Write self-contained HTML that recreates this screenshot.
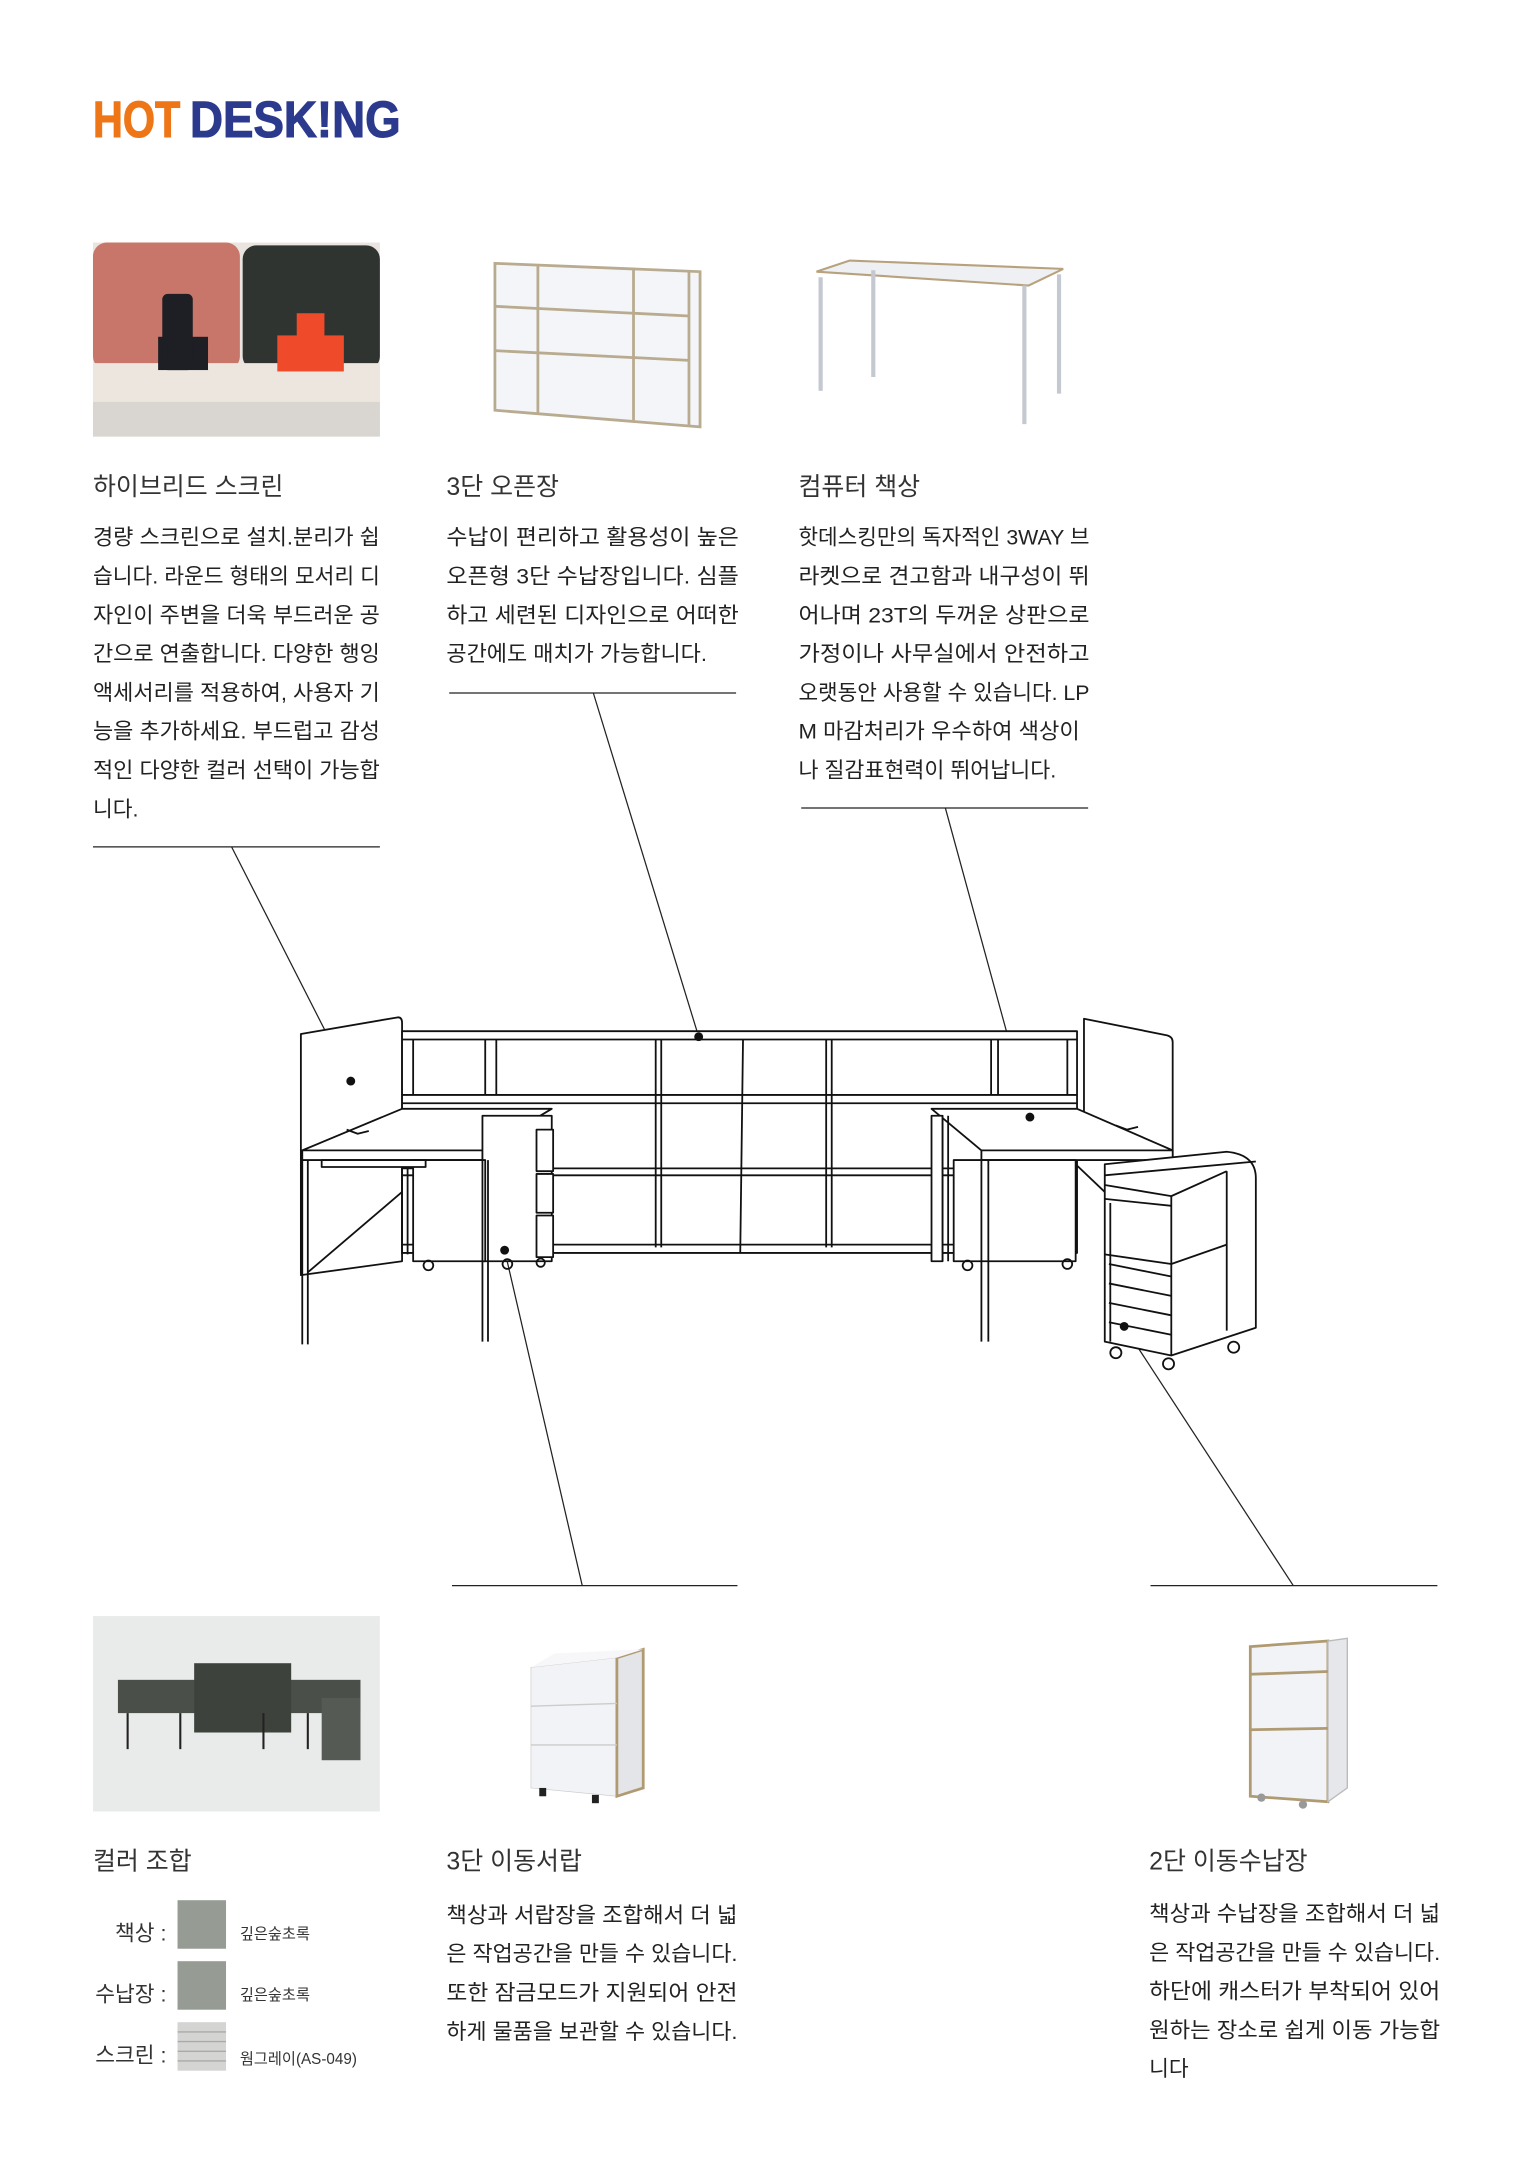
<!DOCTYPE html>
<html><head><meta charset="utf-8"><style>
html,body{margin:0;padding:0;background:#fff}
svg{display:block}
text{font-family:"Liberation Sans","Noto Sans CJK KR",sans-serif;fill:#222}
.t{font-size:18px;fill:#333}
.b{font-size:15.5px;fill:#333}
.s{font-size:11px;fill:#333}
.k{fill:none;stroke:#111;stroke-width:1.3;stroke-linejoin:round}
.w{fill:#fff;stroke:#111;stroke-width:1.3;stroke-linejoin:round}
.ln{stroke:#222;stroke-width:0.9}
</style></head><body>
<svg width="1529" height="2163" viewBox="0 0 1103 1560.6" xmlns="http://www.w3.org/2000/svg">
<!-- logo -->
<text x="67" y="99" textLength="63" lengthAdjust="spacingAndGlyphs" style="font-size:37px;font-weight:bold;fill:#ee7616;stroke:#ee7616;stroke-width:0.8">HOT</text>
<text x="137" y="99" textLength="152" lengthAdjust="spacingAndGlyphs" style="font-size:37px;font-weight:bold;fill:#2c3a8e;stroke:#2c3a8e;stroke-width:0.8">DESK!NG</text>

<!-- image 1 : screens -->
<rect x="67" y="175" width="207" height="140" fill="#e9e4df"/>
<rect x="67" y="175" width="106" height="92" rx="10" fill="#c8766a"/>
<rect x="175" y="177" width="99" height="90" rx="10" fill="#2f3430"/>
<rect x="67" y="262" width="207" height="28" fill="#ece6df"/>
<rect x="67" y="290" width="207" height="25" fill="#d9d6d1"/>
<rect x="114" y="243" width="36" height="24" fill="#1d1f24"/>
<rect x="117" y="212" width="22" height="55" rx="4" fill="#1d1f24"/>
<rect x="200" y="242" width="48" height="26" fill="#ef4a2a"/>
<rect x="214" y="226" width="20" height="18" fill="#ef4a2a"/>
<!-- image 2 : open shelf -->
<polygon points="357,190 505,196 505,308 357,296" fill="#f4f5f8" stroke="#b9ab8f" stroke-width="2"/>
<line x1="357" y1="221" x2="497" y2="228" stroke="#b9ab8f" stroke-width="2"/>
<line x1="357" y1="253" x2="497" y2="260" stroke="#b9ab8f" stroke-width="2"/>
<line x1="388" y1="191" x2="388" y2="298" stroke="#b9ab8f" stroke-width="2"/>
<line x1="457" y1="194" x2="457" y2="303" stroke="#b9ab8f" stroke-width="2"/>
<line x1="497" y1="196" x2="497" y2="308" stroke="#b9ab8f" stroke-width="2"/>
<!-- image 3 : desk -->
<polygon points="589,196 613,188 767,194 742,206" fill="#eef0f4" stroke="#b8a27e" stroke-width="1.5"/>
<g stroke="#c4c8d0" stroke-width="3"><line x1="592" y1="200" x2="592" y2="282"/><line x1="630" y1="195" x2="630" y2="272"/><line x1="739" y1="206" x2="739" y2="306"/><line x1="764" y1="198" x2="764" y2="284"/></g>

<!-- section titles and text -->
<text class="t" x="67" y="357">하이브리드 스크린</text>
<text class="t" x="322" y="357">3단 오픈장</text>
<text class="t" x="576" y="357">컴퓨터 책상</text>

<g class="b">
<text x="67" y="393" textLength="207" lengthAdjust="spacingAndGlyphs">경량 스크린으로 설치.분리가 쉽</text>
<text x="67" y="421" textLength="207" lengthAdjust="spacingAndGlyphs">습니다. 라운드 형태의 모서리 디</text>
<text x="67" y="449" textLength="207" lengthAdjust="spacingAndGlyphs">자인이 주변을 더욱 부드러운 공</text>
<text x="67" y="477" textLength="207" lengthAdjust="spacingAndGlyphs">간으로 연출합니다. 다양한 행잉</text>
<text x="67" y="505" textLength="207" lengthAdjust="spacingAndGlyphs">액세서리를 적용하여, 사용자 기</text>
<text x="67" y="533" textLength="207" lengthAdjust="spacingAndGlyphs">능을 추가하세요. 부드럽고 감성</text>
<text x="67" y="561" textLength="207" lengthAdjust="spacingAndGlyphs">적인 다양한 컬러 선택이 가능합</text>
<text x="67" y="589">니다.</text>

<text x="322" y="393" textLength="211" lengthAdjust="spacingAndGlyphs">수납이 편리하고 활용성이 높은</text>
<text x="322" y="421" textLength="211" lengthAdjust="spacingAndGlyphs">오픈형 3단 수납장입니다. 심플</text>
<text x="322" y="449" textLength="211" lengthAdjust="spacingAndGlyphs">하고 세련된 디자인으로 어떠한</text>
<text x="322" y="477" textLength="188" lengthAdjust="spacingAndGlyphs">공간에도 매치가 가능합니다.</text>

<text x="576" y="393" textLength="210" lengthAdjust="spacingAndGlyphs">핫데스킹만의 독자적인 3WAY 브</text>
<text x="576" y="421" textLength="210" lengthAdjust="spacingAndGlyphs">라켓으로 견고함과 내구성이 뛰</text>
<text x="576" y="449" textLength="210" lengthAdjust="spacingAndGlyphs">어나며 23T의 두꺼운 상판으로</text>
<text x="576" y="477" textLength="210" lengthAdjust="spacingAndGlyphs">가정이나 사무실에서 안전하고</text>
<text x="576" y="505" textLength="210" lengthAdjust="spacingAndGlyphs">오랫동안 사용할 수 있습니다. LP</text>
<text x="576" y="533" textLength="203" lengthAdjust="spacingAndGlyphs">M 마감처리가 우수하여 색상이</text>
<text x="576" y="561" textLength="186" lengthAdjust="spacingAndGlyphs">나 질감표현력이 뛰어납니다.</text>
</g>

<!-- rules and leader lines -->
<line class="ln" x1="67" y1="611" x2="274" y2="611"/>
<line class="ln" x1="324" y1="500" x2="531" y2="500"/>
<line class="ln" x1="578" y1="583" x2="785" y2="583"/>
<line class="ln" x1="167" y1="611" x2="253" y2="780"/>
<line class="ln" x1="428" y1="500" x2="504" y2="748"/>
<line class="ln" x1="682" y1="583" x2="743" y2="806"/>
<line class="ln" x1="326" y1="1144" x2="532" y2="1144"/>
<line class="ln" x1="830" y1="1144" x2="1037" y2="1144"/>
<line class="ln" x1="420" y1="1144" x2="364" y2="902"/>
<line class="ln" x1="933" y1="1144" x2="811" y2="957"/>

<!-- furniture line drawing -->
<g>
<path class="w" d="M217,746 L287,734 Q290,734 290,738 L290,910 L217,920 Z"/>
<path class="w" d="M782,735 L842,747 Q846,748 846,752 L846,835 L782,830 Z"/>
<rect class="w" x="290" y="744" width="487" height="160"/>
<line class="k" x1="290" y1="750" x2="777" y2="750"/>
<line class="k" x1="298" y1="750" x2="298" y2="790"/>
<line class="k" x1="290" y1="790" x2="777" y2="790"/>
<line class="k" x1="290" y1="796" x2="777" y2="796"/>
<line class="k" x1="290" y1="843" x2="777" y2="843"/>
<line class="k" x1="290" y1="848" x2="777" y2="848"/>
<line class="k" x1="290" y1="898" x2="777" y2="898"/>
<g class="k">
<line x1="350" y1="750" x2="350" y2="790"/><line x1="358" y1="750" x2="358" y2="790"/>
<line x1="473" y1="750" x2="473" y2="900"/><line x1="477" y1="750" x2="477" y2="900"/>
<line x1="536" y1="750" x2="534" y2="904"/>
<line x1="596" y1="750" x2="596" y2="900"/><line x1="600" y1="750" x2="600" y2="900"/>
<line x1="715" y1="750" x2="715" y2="790"/><line x1="720" y1="750" x2="720" y2="790"/>
<line x1="770" y1="750" x2="770" y2="790"/>
</g>
<path class="w" d="M218,830 L290,800 L398,800 L348,830 Z"/>
<path d="M250,815 l8,3 l8,-2" class="k"/>
<rect class="w" x="218" y="830" width="130" height="7"/>
<rect class="w" x="348" y="805" width="50" height="105"/>
<rect class="w" x="387" y="815" width="12" height="30"/><rect class="w" x="387" y="847" width="12" height="28"/><rect class="w" x="387" y="877" width="12" height="30"/>
<rect class="w" x="298" y="837" width="52" height="73"/>
<rect class="w" x="232" y="837" width="75" height="5"/>
<g class="k">
<line x1="218" y1="837" x2="218" y2="970"/><line x1="222" y1="837" x2="222" y2="970"/>
<line x1="290" y1="842" x2="290" y2="905"/><line x1="294" y1="842" x2="294" y2="905"/>
<line x1="348" y1="837" x2="348" y2="968"/><line x1="352" y1="837" x2="352" y2="968"/>
<line x1="222" y1="918" x2="290" y2="860"/>
<circle cx="309" cy="913" r="3.5"/><circle cx="366" cy="912" r="3.5"/><circle cx="390" cy="911" r="3"/>
</g>
<path class="w" d="M672,800 L777,800 L846,830 L708,830 Z"/>
<path d="M805,812 l8,3 l8,-2" class="k"/>
<rect class="w" x="708" y="830" width="138" height="7"/>
<rect class="w" x="672" y="805" width="8" height="105"/>
<rect class="w" x="688" y="837" width="88" height="73"/>
<g class="k">
<line x1="708" y1="837" x2="708" y2="968"/><line x1="713" y1="837" x2="713" y2="968"/>
<line x1="680" y1="805" x2="680" y2="910"/><line x1="684" y1="805" x2="684" y2="910"/>
<circle cx="698" cy="913" r="3.5"/><circle cx="770" cy="912" r="3.5"/>
<line x1="776" y1="840" x2="797" y2="860"/>
</g>
<path class="w" d="M797,840 L885,831 Q906,833 906,850 L906,958 L845,978 L797,968 Z"/>
<line class="k" x1="797" y1="848" x2="906" y2="838"/>
<line class="k" x1="797" y1="855" x2="845" y2="863"/>
<line class="k" x1="845" y1="863" x2="885" y2="845"/>
<line class="k" x1="885" y1="845" x2="885" y2="960"/>
<line class="k" x1="797" y1="865" x2="845" y2="870"/>
<line class="k" x1="797" y1="905" x2="845" y2="912"/>
<line class="k" x1="845" y1="912" x2="885" y2="898"/>
<line class="k" x1="845" y1="863" x2="845" y2="978"/>
<g class="k">
<line x1="800" y1="912" x2="845" y2="921"/><line x1="800" y1="926" x2="845" y2="935"/><line x1="800" y1="940" x2="845" y2="949"/><line x1="800" y1="954" x2="845" y2="963"/>
<line x1="801" y1="868" x2="801" y2="968"/>
<circle cx="805" cy="976" r="4"/><circle cx="843" cy="984" r="4"/><circle cx="890" cy="972" r="4"/>
</g>
<g fill="#111"><circle cx="253" cy="780" r="3.2"/><circle cx="504" cy="748" r="3.2"/><circle cx="743" cy="806" r="3.2"/><circle cx="364" cy="902" r="3.2"/><circle cx="811" cy="957" r="3.2"/></g>
</g>

<!-- bottom images -->
<rect x="67" y="1166" width="207" height="141" fill="#e9ebea"/>
<rect x="85" y="1212" width="175" height="24" fill="#4b4f4a"/>
<rect x="140" y="1200" width="70" height="50" fill="#3e423d"/>
<rect x="232" y="1225" width="28" height="45" fill="#565a55"/>
<g stroke="#222" stroke-width="1.5"><line x1="92" y1="1236" x2="92" y2="1262"/><line x1="130" y1="1236" x2="130" y2="1262"/><line x1="190" y1="1236" x2="190" y2="1262"/><line x1="222" y1="1236" x2="222" y2="1262"/></g>
<polygon points="383,1203 445,1196 445,1296 383,1290" fill="#f2f3f6" stroke="#ccc" stroke-width="0.5"/>
<polygon points="445,1196 464,1190 464,1290 445,1296" fill="#e4e5e9" stroke="#b09a72" stroke-width="2"/>
<polygon points="383,1203 400,1193 464,1190 445,1196" fill="#f7f7f9"/>
<line x1="383" y1="1231" x2="445" y2="1229" stroke="#ccc"/><line x1="383" y1="1259" x2="445" y2="1259" stroke="#ccc"/>
<rect x="389" y="1290" width="5" height="6" fill="#222"/><rect x="427" y="1295" width="5" height="6" fill="#222"/>
<polygon points="902,1188 958,1184 958,1300 902,1296" fill="#f2f3f6" stroke="#b09a72" stroke-width="2"/>
<polygon points="958,1184 972,1182 972,1290 958,1300" fill="#e6e7ea" stroke="#bbb" stroke-width="1"/>
<line x1="902" y1="1208" x2="958" y2="1206" stroke="#b09a72" stroke-width="2"/>
<line x1="902" y1="1248" x2="958" y2="1247" stroke="#b09a72" stroke-width="2"/>
<circle cx="910" cy="1297" r="3" fill="#999"/><circle cx="940" cy="1302" r="3" fill="#999"/>

<text class="t" x="67" y="1349">컬러 조합</text>
<text class="t" x="322" y="1349">3단 이동서랍</text>
<text class="t" x="829" y="1349">2단 이동수납장</text>

<text class="b" x="120" y="1400" text-anchor="end">책상 :</text>
<text class="b" x="120" y="1444" text-anchor="end">수납장 :</text>
<text class="b" x="120" y="1488" text-anchor="end">스크린 :</text>
<rect x="128" y="1371" width="35" height="35" fill="#969b94"/>
<rect x="128" y="1415" width="35" height="35" fill="#969b94"/>
<rect x="128" y="1459" width="35" height="35" fill="#d4d4d2"/>
<g stroke="#aaa" stroke-width="1"><line x1="128" y1="1466" x2="163" y2="1466"/><line x1="128" y1="1473" x2="163" y2="1473"/><line x1="128" y1="1480" x2="163" y2="1480"/><line x1="128" y1="1487" x2="163" y2="1487"/></g>
<text class="s" x="173" y="1399">깊은숲초록</text>
<text class="s" x="173" y="1443">깊은숲초록</text>
<text class="s" x="173" y="1489">웜그레이(AS-049)</text>

<g class="b">
<text x="322" y="1387" textLength="210" lengthAdjust="spacingAndGlyphs">책상과 서랍장을 조합해서 더 넓</text>
<text x="322" y="1415" textLength="210" lengthAdjust="spacingAndGlyphs">은 작업공간을 만들 수 있습니다.</text>
<text x="322" y="1443" textLength="210" lengthAdjust="spacingAndGlyphs">또한 잠금모드가 지원되어 안전</text>
<text x="322" y="1471" textLength="210" lengthAdjust="spacingAndGlyphs">하게 물품을 보관할 수 있습니다.</text>

<text x="829" y="1386" textLength="210" lengthAdjust="spacingAndGlyphs">책상과 수납장을 조합해서 더 넓</text>
<text x="829" y="1414" textLength="210" lengthAdjust="spacingAndGlyphs">은 작업공간을 만들 수 있습니다.</text>
<text x="829" y="1442" textLength="210" lengthAdjust="spacingAndGlyphs">하단에 캐스터가 부착되어 있어</text>
<text x="829" y="1470" textLength="210" lengthAdjust="spacingAndGlyphs">원하는 장소로 쉽게 이동 가능합</text>
<text x="829" y="1498">니다</text>
</g>
</svg>
</body></html>
